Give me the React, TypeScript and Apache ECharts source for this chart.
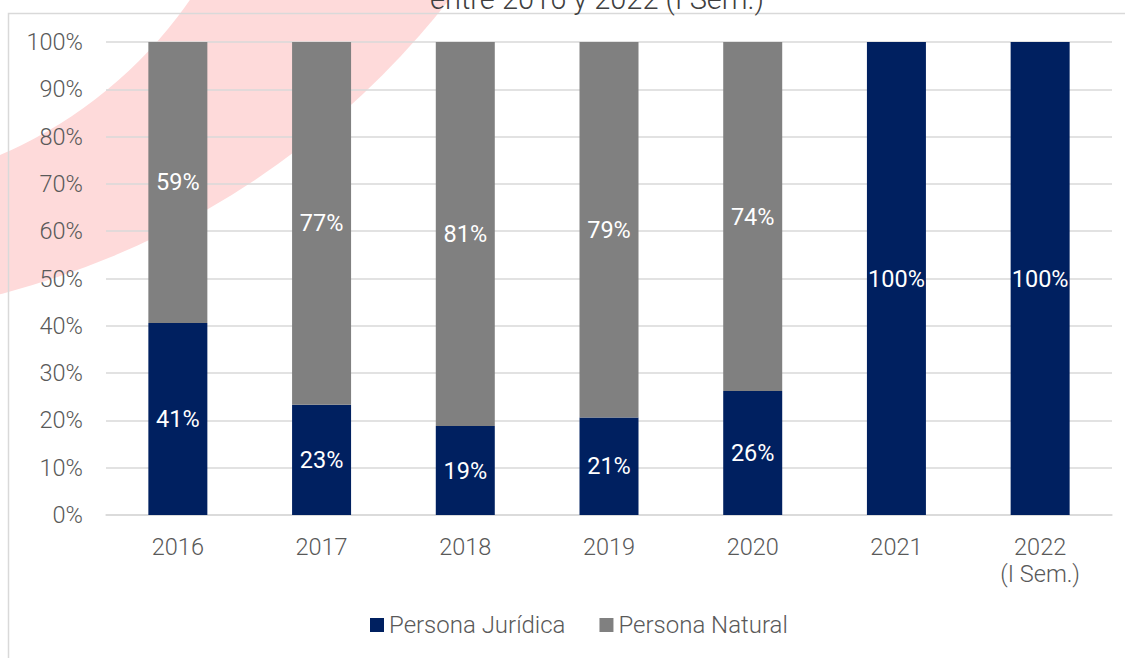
import React, { useEffect, useRef } from "react";
import * as echarts from "echarts";

const categories = ["2016", "2017", "2018", "2019", "2020", "2021", "2022\n(I Sem.)"];
const juridica = [40.6, 23.3, 18.8, 20.6, 26.2, 100, 100];
const natural = [59.4, 76.7, 81.2, 79.4, 73.8, 0, 0];
const yTicks = [0, 10, 20, 30, 40, 50, 60, 70, 80, 90, 100];
const titleText = "entre 2016 y 2022 (I Sem.)";

const FONT = "Roboto";

export default function App() {
  const ref = useRef<HTMLDivElement>(null);
  useEffect(() => {
    if (!ref.current) return;
    const chart = echarts.init(ref.current, undefined, { renderer: "svg" });
    const labelFmt = (p: any) => (p.value > 0 ? Math.round(p.value) + "%" : "");
    const dataLabel = {
      show: true,
      position: "inside",
      color: "#ffffff",
      fontFamily: FONT,
      fontWeight: 400,
      fontSize: 23.5,
      formatter: labelFmt,
    };
    chart.setOption({
      animation: false,
      backgroundColor: "#ffffff",
      textStyle: { fontFamily: FONT, fontWeight: 300 },
      graphic: [
        {
          type: "circle",
          z: -20,
          shape: { cx: -210, cy: -516, r: 837 },
          style: { fill: "#fedada" },
          silent: true,
        },
        {
          type: "circle",
          z: -19,
          shape: { cx: -175, cy: -253, r: 444 },
          style: { fill: "#ffffff" },
          silent: true,
        },
        {
          type: "rect",
          z: -5,
          shape: { x: 8.5, y: 13.5, width: 1140, height: 700 },
          style: { fill: "none", stroke: "#d9d9d9", lineWidth: 1.5 },
          silent: true,
        },
        {
          type: "text",
          z: 5,
          x: 597,
          y: 13,
          style: {
            text: titleText,
            fill: "#404040",
            font: `300 29px ${FONT}`,
            align: "center",
            verticalAlign: "bottom",
          },
        },
      ],
      grid: { left: 106, right: 13, top: 42, bottom: 143, containLabel: false },
      legend: {
        bottom: 16,
        left: 365,
        itemWidth: 14,
        itemHeight: 14,
        itemGap: 34,
        icon: "rect",
        textStyle: { fontFamily: FONT, fontWeight: 300, fontSize: 24, color: "#595959" },
        data: ["Persona Jurídica", "Persona Natural"],
      },
      xAxis: {
        type: "category",
        data: categories,
        axisTick: { show: false },
        axisLine: { lineStyle: { color: "#d9d9d9", width: 1.5 } },
        axisLabel: {
          color: "#595959",
          fontFamily: FONT,
          fontWeight: 300,
          fontSize: 23.5,
          margin: 18,
          lineHeight: 27,
        },
      },
      yAxis: {
        type: "value",
        min: 0,
        max: 100,
        interval: 10,
        axisLine: { show: false },
        axisTick: { show: false },
        splitLine: { lineStyle: { color: "#d9d9d9", width: 1.5 } },
        axisLabel: {
          color: "#595959",
          fontFamily: FONT,
          fontWeight: 300,
          fontSize: 23.5,
          margin: 23,
          formatter: (v: number) => (yTicks.includes(v) ? v + "%" : ""),
        },
      },
      series: [
        {
          name: "Persona Jurídica",
          type: "bar",
          stack: "total",
          data: juridica,
          barWidth: 59,
          itemStyle: { color: "#002060" },
          label: dataLabel,
        },
        {
          name: "Persona Natural",
          type: "bar",
          stack: "total",
          data: natural,
          barWidth: 59,
          itemStyle: { color: "#808080" },
          label: dataLabel,
        },
      ],
    });
    return () => chart.dispose();
  }, []);
  return (
    <div
      ref={ref}
      style={{ position: "fixed", left: 0, top: 0, width: 1125, height: 658 }}
    />
  );
}
